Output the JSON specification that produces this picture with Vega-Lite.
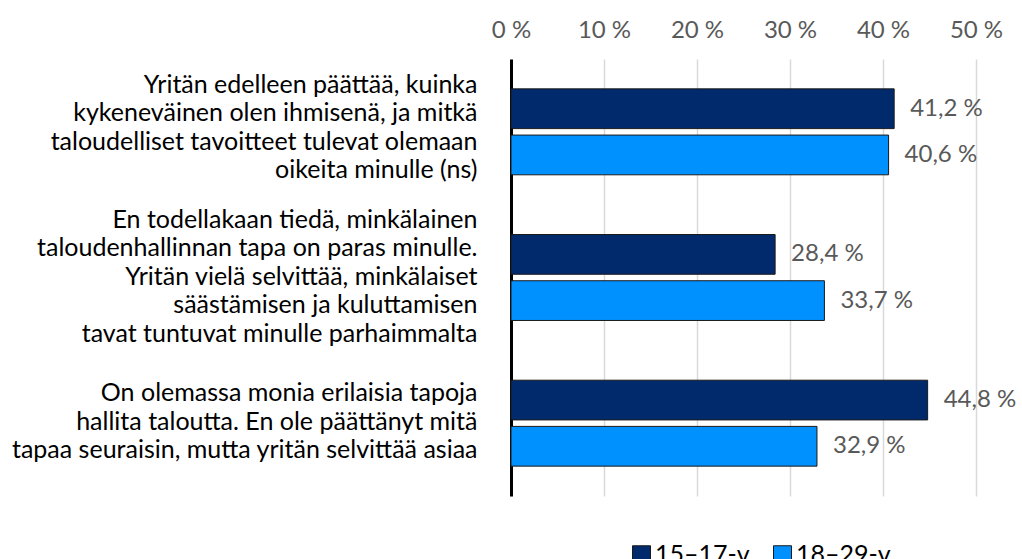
{
  "$schema": "https://vega.github.io/schema/vega-lite/v6.json",
  "width": 465,
  "height": 437,
  "autosize": "none",
  "padding": {"left": 511, "top": 59, "right": 46, "bottom": 63},
  "data": {
    "values": [
      {"cat": "Yritän edelleen päättää, kuinka|kykeneväinen olen ihmisenä, ja mitkä|taloudelliset tavoitteet tulevat olemaan|oikeita minulle (ns)", "group": "15–17-v.", "value": 0.412},
      {"cat": "Yritän edelleen päättää, kuinka|kykeneväinen olen ihmisenä, ja mitkä|taloudelliset tavoitteet tulevat olemaan|oikeita minulle (ns)", "group": "18–29-v.", "value": 0.406},
      {"cat": "En todellakaan tiedä, minkälainen|taloudenhallinnan tapa on paras minulle.|Yritän vielä selvittää, minkälaiset|säästämisen ja kuluttamisen|tavat tuntuvat minulle parhaimmalta", "group": "15–17-v.", "value": 0.284},
      {"cat": "En todellakaan tiedä, minkälainen|taloudenhallinnan tapa on paras minulle.|Yritän vielä selvittää, minkälaiset|säästämisen ja kuluttamisen|tavat tuntuvat minulle parhaimmalta", "group": "18–29-v.", "value": 0.337},
      {"cat": "On olemassa monia erilaisia tapoja|hallita taloutta. En ole päättänyt mitä|tapaa seuraisin, mutta yritän selvittää asiaa", "group": "15–17-v.", "value": 0.448},
      {"cat": "On olemassa monia erilaisia tapoja|hallita taloutta. En ole päättänyt mitä|tapaa seuraisin, mutta yritän selvittää asiaa", "group": "18–29-v.", "value": 0.329}
    ]
  },
  "encoding": {
    "y": {
      "field": "cat", "type": "nominal", "sort": null,
      "scale": {"paddingInner": 0.41, "paddingOuter": 0.205},
      "axis": {
        "title": null, "ticks": false, "domainColor": "#000000", "domainWidth": 3,
        "labelExpr": "split(datum.label, '|')", "labelFont": "Lato", "labelFontSize": 25,
        "labelLineHeight": 28.5, "labelColor": "#000000", "labelPadding": 34,
        "labelLimit": 600,
        "labelOffset": {
          "condition": [
            {"test": "indexof(datum.value, 'Yritän edelleen') === 0", "value": -47},
            {"test": "indexof(datum.value, 'En todellakaan') === 0", "value": -58}
          ],
          "value": -30
        }
      }
    },
    "yOffset": {"field": "group", "type": "nominal", "scale": {"paddingInner": 0.14, "paddingOuter": 0}},
    "x": {
      "field": "value", "type": "quantitative",
      "scale": {"domain": [0, 0.5]},
      "axis": {
        "orient": "top", "title": null, "values": [0, 0.1, 0.2, 0.3, 0.4, 0.5], "format": ".0%",
        "ticks": false, "domain": false, "gridColor": "#d9d9d9", "gridWidth": 1.5,
        "labelFlush": false, "labelOverlap": false,
        "labelFont": "Lato", "labelFontSize": 24, "labelColor": "#595959", "labelPadding": 17
      }
    }
  },
  "layer": [
    {
      "mark": {"type": "bar", "stroke": "#1a1a1a", "strokeWidth": 1},
      "encoding": {
        "color": {
          "field": "group", "type": "nominal",
          "scale": {"range": ["#002a6b", "#0091ff"]},
          "legend": {
            "title": null, "orient": "none", "direction": "horizontal",
            "legendX": 118, "legendY": 483, "symbolType": "square", "symbolSize": 324,
            "symbolStrokeColor": "#1a1a1a", "symbolStrokeWidth": 1,
            "labelFont": "Lato", "labelFontSize": 25, "labelColor": "#000000",
            "columnPadding": 15, "labelOffset": 1
          }
        }
      }
    },
    {
      "mark": {"type": "text", "align": "left", "baseline": "middle", "dx": 16, "font": "Lato", "fontSize": 24, "color": "#595959"},
      "encoding": {
        "text": {"field": "value", "type": "quantitative", "format": ".1%"}
      }
    }
  ],
  "config": {
    "view": {"stroke": null},
    "locale": {
      "number": {"decimal": ",", "thousands": " ", "grouping": [3], "currency": ["", " €"], "percent": " %"}
    }
  }
}
